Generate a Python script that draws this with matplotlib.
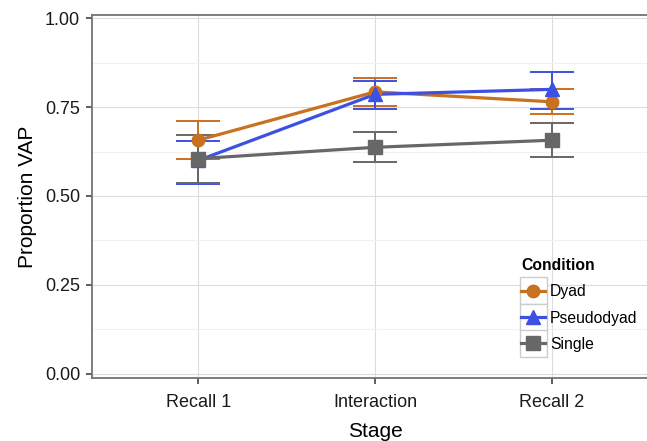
import matplotlib
matplotlib.use("Agg")
import matplotlib.pyplot as plt
from matplotlib.patches import Rectangle
from matplotlib.ticker import MultipleLocator

plt.rcParams["font.family"] = ["Liberation Sans", "DejaVu Sans"]

# データ
stages = ["Recall 1", "Interaction", "Recall 2"]
conditions = ["Dyad", "Pseudodyad", "Single"]

dyad_mean = [0.657, 0.793, 0.765]
dyad_lo = [0.603, 0.754, 0.730]
dyad_hi = [0.711, 0.832, 0.801]

pseudo_mean = [0.600, 0.786, 0.800]
pseudo_lo = [0.535, 0.745, 0.746]
pseudo_hi = [0.654, 0.823, 0.848]

single_mean = [0.605, 0.637, 0.657]
single_lo = [0.537, 0.595, 0.610]
single_hi = [0.671, 0.680, 0.706]

colors = ["#C8711F", "#3C50E4", "#676767"]
markers = ["o", "^", "s"]
msizes = [9, 10, 10]

means = [dyad_mean, pseudo_mean, single_mean]
los = [dyad_lo, pseudo_lo, single_lo]
his = [dyad_hi, pseudo_hi, single_hi]

fig = plt.figure(figsize=(6.47, 4.41), dpi=100)
ax = fig.add_axes([92 / 647, 63.3 / 441, 566 / 647, 362.7 / 441])

x = list(range(1, len(stages) + 1))

# エラーバー
for m, lo, hi, c in zip(means, los, his, colors):
    yerr = [[a - b for a, b in zip(m, lo)], [b - a for a, b in zip(m, hi)]]
    ax.errorbar(x, m, yerr=yerr, fmt="none", ecolor=c, elinewidth=1.4,
                capsize=15.5, capthick=1.4, zorder=2)

# ライン
for m, c in zip(means, colors):
    ax.plot(x, m, color=c, lw=2.3, zorder=3, solid_capstyle="butt")

# ポイント
handles = []
for m, c, mk, ms, lab in zip(means, colors, markers, msizes, conditions):
    ax.plot(x, m, ls="none", marker=mk, ms=ms, color=c, mec=c, zorder=4)
    h, = ax.plot([], [], color=c, lw=2.3, marker=mk, ms=ms, mec=c, label=lab)
    handles.append(h)

ax.set_xlim(0.4, 3.6)
ax.set_ylim(-0.0113, 1.0093)
ax.set_xticks(x)
ax.set_xticklabels(stages)
ax.set_yticks([0, 0.25, 0.5, 0.75, 1.0])
ax.set_yticklabels(["0.00", "0.25", "0.50", "0.75", "1.00"])
ax.yaxis.set_minor_locator(MultipleLocator(0.125))
ax.tick_params(axis="y", which="minor", length=0)

ax.grid(True, which="major", color="#dcdcdc", lw=0.8, zorder=0)
ax.grid(True, which="minor", axis="y", color="#f1f1f1", lw=0.8, zorder=0)
ax.set_axisbelow(True)

for s in ax.spines.values():
    s.set_color("#737373")
    s.set_linewidth(1.3)

ax.tick_params(axis="both", which="major", length=4.5, width=1.1, color="#333333",
               labelsize=13, labelcolor="#1a1a1a", pad=4)
ax.tick_params(axis="x", pad=7.5)

ax.set_xlabel("Stage", fontsize=15, labelpad=8)
ax.set_ylabel("Proportion VAP", fontsize=15, labelpad=6)

leg = ax.legend(handles=handles, loc="upper left",
                bbox_to_anchor=(521 / 647, 1 - 258 / 441),
                bbox_transform=fig.transFigure, frameon=False,
                title="Condition", title_fontproperties={"weight": "bold", "size": 11.3},
                fontsize=11.3, handlelength=1.55, handletextpad=0.3,
                labelspacing=0.72, borderpad=0, borderaxespad=0, alignment="left")
leg.set_zorder(6)

# 凡例キーの枠
fig.canvas.draw()
renderer = fig.canvas.get_renderer()
inv = fig.transFigure.inverted()
for h in leg.legend_handles:
    bb = h.get_window_extent(renderer)
    cx, cy = (bb.x0 + bb.x1) / 2, (bb.y0 + bb.y1) / 2
    half = 13.5
    (x0, y0) = inv.transform((cx - half, cy - half))
    (x1, y1) = inv.transform((cx + half, cy + half))
    ax.add_patch(Rectangle((x0, y0), x1 - x0, y1 - y0, transform=fig.transFigure,
                           fc="white", ec="#cccccc", lw=1.0, zorder=5.5, clip_on=False))

fig.savefig("out.png", dpi=100)
